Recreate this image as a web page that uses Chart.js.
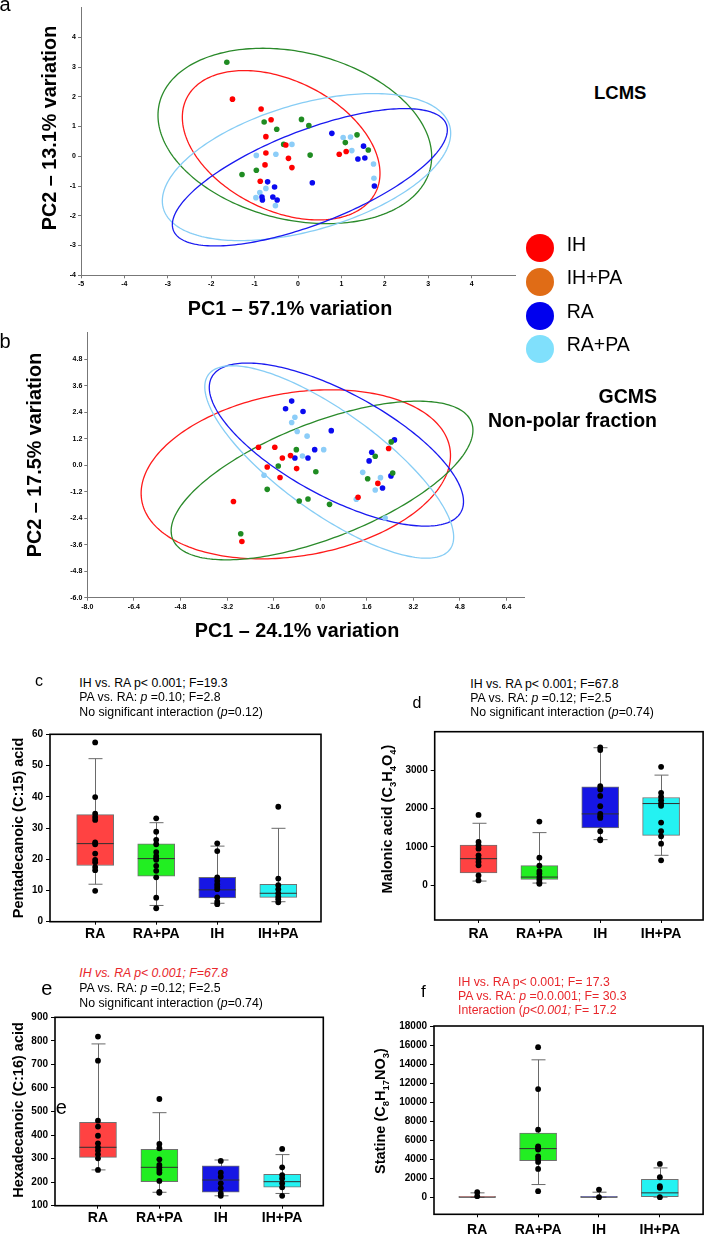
<!DOCTYPE html>
<html><head><meta charset="utf-8">
<script src="https://cdn.jsdelivr.net/npm/chart.js@4.4.0/dist/chart.umd.min.js"></script>
<style>
html,body{margin:0;padding:0;background:#fff;}
body{width:706px;height:1235px;position:relative;overflow:hidden;font-family:"Liberation Sans",Arial,sans-serif;}
canvas{position:absolute;}
.t{position:absolute;white-space:nowrap;color:#000;line-height:1;z-index:5;}
.c{transform:translate(-50%,-50%);}
.v{transform:translate(-50%,-50%) rotate(-90deg);}
.l{transform:translateY(-50%);}
.r{transform:translate(-100%,-50%);}
.dot{position:absolute;width:28px;height:28px;border-radius:50%;transform:translate(-50%,-50%);}
.red{color:#e8262b;}
</style></head><body>
<script>
// ---------------- DATA ----------------
// Panel a (LCMS PCA): [PC1, PC2]
const lcmsIH = [[-1.51,1.92],[-0.85,1.59],[-0.62,1.23],[-0.74,0.66],[-0.28,0.38],[-0.74,0.11],[-0.22,-0.07],[-0.76,-0.29],[-0.14,-0.38],[-0.87,-0.84],[0.95,0.07],[1.11,0.16]];
const lcmsIHPA = [[-1.64,3.16],[-0.78,1.15],[-0.49,0.91],[0.08,1.24],[0.25,1.03],[-0.33,0.40],[0.28,0.04],[-1.29,-0.61],[-0.96,-0.47],[1.09,0.46],[1.36,0.72],[1.62,0.21]];
const lcmsRA = [[0.78,0.77],[1.51,0.34],[1.38,-0.09],[1.54,-0.06],[1.76,-1.0],[0.33,-0.89],[-0.70,-0.86],[-0.54,-1.03],[-0.83,-1.37],[-0.82,-1.47],[-0.58,-1.37],[-0.48,-1.47]];
const lcmsRAPA = [[-0.96,0.03],[-0.51,0.07],[-0.14,0.40],[1.04,0.63],[1.21,0.65],[1.24,0.19],[1.74,-0.26],[1.75,-0.74],[-0.74,-1.08],[-0.88,-1.22],[-0.97,-1.39],[-0.52,-1.66]];
// confidence ellipses: [centre PC1, centre PC2, half-range PC1, half-range PC2, cos(phase)]
const lcmsEllIH = [-0.388,0.370,2.277,2.510,-0.375];
const lcmsEllIHPA = [-0.073,0.683,3.153,2.947,-0.235];
const lcmsEllRA = [0.273,-0.706,3.168,2.308,0.689];
const lcmsEllRAPA = [0.196,-0.364,3.322,2.471,0.460];
const lcmsXTicks = [-5,-4,-3,-2,-1,0,1,2,3,4];
const lcmsYTicks = [-4,-3,-2,-1,0,1,2,3,4];

// Panel b (GCMS PCA)
const gcmsIH = [[-2.12,0.82],[-1.56,0.82],[-1.30,0.33],[-1.02,0.44],[-1.82,-0.08],[-0.81,-0.15],[-1.38,-0.55],[-2.98,-1.64],[-2.69,-3.45],[2.35,0.76],[1.98,-0.82],[1.30,-1.45]];
const gcmsIHPA = [[-0.82,0.71],[-1.44,-0.03],[-0.15,-0.29],[-1.82,-1.09],[-0.72,-1.62],[-0.42,-1.53],[0.32,-1.77],[-2.73,-3.10],[1.89,0.41],[1.63,-0.61],[2.49,-0.35],[2.44,1.06]];
const gcmsRA = [[-0.98,2.91],[-1.19,2.56],[-0.59,2.44],[0.38,1.57],[-0.19,0.71],[-0.87,0.33],[-0.42,0.33],[1.77,0.59],[1.68,0.20],[2.55,1.15],[2.43,-0.48],[2.14,-1.03]];
const gcmsRAPA = [[-0.87,2.18],[-0.98,1.94],[-0.79,1.53],[-0.45,1.32],[0.12,0.71],[-0.61,0.42],[-1.93,-0.45],[1.46,-0.32],[2.07,-0.56],[1.89,-1.12],[1.24,-1.54],[2.23,-2.39]];
const gcmsEllIH = [-0.838,-0.409,5.313,3.831,0.224];
const gcmsEllIHPA = [0.063,-0.689,5.183,3.596,0.634];
const gcmsEllRA = [0.556,0.939,4.366,3.695,-0.70];
const gcmsEllRAPA = [0.31,0.151,4.274,4.361,-0.78];
const gcmsXTicks = [-8.0,-6.4,-4.8,-3.2,-1.6,0.0,1.6,3.2,4.8,6.4];
const gcmsYTicks = [-6.0,-4.8,-3.6,-2.4,-1.2,0.0,1.2,2.4,3.6,4.8];

// Box plots: categories, boxes [min, q1, median, q3, max], individual points
const categories = ['RA','RA+PA','IH','IH+PA'];
const cBoxes = [[12.0,18.0,25.0,34.3,52.2],[5.2,14.6,20.2,24.9,31.7],[5.9,7.6,10.2,14.2,24.2],[6.4,7.8,9.1,12.0,29.9]];
const cPoints = [[57.4,39.9,34.6,33.5,32.6,25.4,24.8,21.8,19.8,19.0,17.5,16.5,9.9],[33.1,28.8,26.2,24.8,22.3,21.0,20.3,19.8,17.9,16.3,14.2,7.7,4.3],[25.1,22.6,14.2,13.1,12.0,11.2,10.4,7.8,6.4,5.6],[36.8,13.8,11.7,10.4,9.1,8.0,7.2,6.2]];
const cYTicks = [0,10,20,30,40,50,60];
const dBoxes = [[113,322,696,1052,1617],[61,157,217,513,1374],[1191,1496,1861,2565,3583],[783,1304,2130,2287,2870]];
const dPoints = [[1835,1130,1043,957,783,696,609,522,261,130],[1661,722,513,374,304,217,148,78,43],[3591,3522,2583,2496,2330,2061,1861,1800,1757,1409,1200,1174],[3087,2409,2304,2217,2130,2070,1635,1409,1278,1087,652]];
const dYTicks = [0,1000,2000,3000];
const eBoxes = [[252,305,348,454,787],[157,202,263,339,495],[142,157,209,269,294],[152,179,202,233,317]];
const ePoints = [[818,716,461,436,397,365,348,334,318,301,252],[553,362,344,297,273,263,252,240,205,159,155],[290,240,223,195,174,152,142],[341,263,230,216,195,178,142]];
const eYTicks = [100,200,300,400,500,600,700,800,900];
const fBoxes = [[0,0,0,30,455],[1329,3847,5106,6749,14443],[0,0,0,30,525],[0,0,455,1888,3077]];
const fPoints = [[525,105],[15771,11365,7099,5350,5176,5001,4301,4021,3707,2972,629],[804,0],[3497,2098,1154,979,0]];
const fYTicks = [0,2000,4000,6000,8000,10000,12000,14000,16000,18000];

// ---------------- RENDERING ----------------
Chart.defaults.font.family = '"Liberation Sans", Arial, sans-serif';
Chart.defaults.color = '#000';

function makeCanvas(rect){
  const cv = document.createElement('canvas');
  cv.width = rect.w; cv.height = rect.h;
  cv.style.left = rect.x+'px'; cv.style.top = rect.y+'px';
  cv.style.width = rect.w+'px'; cv.style.height = rect.h+'px';
  document.body.appendChild(cv);
  return cv;
}
function fixTicks(list){ return s => { s.ticks = list.map(v => ({value:v})); }; }

const PCA_COLORS = {IH:'#ff0000', IHPA:'#1f8c22', RA:'#0a0af0', RAPA:'#8ccdf8'};
const ELL_COLORS = {IH:'#ff1a1a', IHPA:'#2a8a2a', RA:'#1a1af0', RAPA:'#87cdf5'};

function pcaChart(rect, area, groups, ellipses, xr, yr, xt, yt, dec){
  const cv = makeCanvas(rect);
  const ellPlugin = {
    id:'ell',
    beforeDatasetsDraw(chart){
      const ctx = chart.ctx, xs = chart.scales.x, ys = chart.scales.y;
      ctx.save();
      ellipses.forEach(e => {
        const p = e.p, d = Math.acos(p[4]);
        ctx.beginPath();
        for (let k=0;k<=240;k++){
          const t = k/240*2*Math.PI;
          const px = xs.getPixelForValue(p[0] + p[2]*Math.cos(t));
          const py = ys.getPixelForValue(p[1] + p[3]*Math.cos(t - d));
          if (k===0) ctx.moveTo(px,py); else ctx.lineTo(px,py);
        }
        ctx.closePath();
        ctx.strokeStyle = e.color; ctx.lineWidth = 1.3; ctx.stroke();
      });
      ctx.restore();
    }
  };
  const fmt = v => dec ? Number(v).toFixed(1) : String(v);
  new Chart(cv, {
    type:'scatter',
    data:{datasets: groups.map(g => ({data:g.pts.map(p=>({x:p[0],y:p[1]})), backgroundColor:g.color, pointRadius:2.8, pointBorderWidth:0, pointHoverRadius:2.8}))},
    options:{
      responsive:false, animation:false, devicePixelRatio:1,
      layout:{padding:{left:0, top:area.t-rect.y, right:rect.x+rect.w-area.r, bottom:0}},
      plugins:{legend:{display:false}, tooltip:{enabled:false}},
      scales:{
        x:{type:'linear', min:xr[0], max:xr[1], afterBuildTicks:fixTicks(xt),
           ticks:{callback:fmt, font:{size:7, weight:'bold'}, padding:2, maxRotation:0, autoSkip:false},
           grid:{drawOnChartArea:false, tickLength:3, color:'#777'}, border:{color:'#777', width:1},
           afterFit:s=>{s.height = rect.y+rect.h-area.b;}},
        y:{type:'linear', min:yr[0], max:yr[1], afterBuildTicks:fixTicks(yt),
           ticks:{callback:fmt, font:{size:7, weight:'bold'}, padding:2, autoSkip:false},
           grid:{drawOnChartArea:false, tickLength:3, color:'#777'}, border:{color:'#777', width:1},
           afterFit:s=>{s.width = area.l-rect.x;}}
      }
    },
    plugins:[ellPlugin]
  });
}

pcaChart({x:0,y:0,w:530,h:300},{l:81,t:7.5,r:515,b:275.3},
  [{pts:lcmsIH,color:PCA_COLORS.IH},{pts:lcmsIHPA,color:PCA_COLORS.IHPA},{pts:lcmsRA,color:PCA_COLORS.RA},{pts:lcmsRAPA,color:PCA_COLORS.RAPA}],
  [{p:lcmsEllIHPA,color:ELL_COLORS.IHPA},{p:lcmsEllIH,color:ELL_COLORS.IH},{p:lcmsEllRAPA,color:ELL_COLORS.RAPA},{p:lcmsEllRA,color:ELL_COLORS.RA}],
  [-5,5],[-4,5],lcmsXTicks,lcmsYTicks,false);

pcaChart({x:0,y:320,w:545,h:300},{l:87.3,t:332.9,r:524,b:597.7},
  [{pts:gcmsIH,color:PCA_COLORS.IH},{pts:gcmsIHPA,color:PCA_COLORS.IHPA},{pts:gcmsRA,color:PCA_COLORS.RA},{pts:gcmsRAPA,color:PCA_COLORS.RAPA}],
  [{p:gcmsEllIH,color:ELL_COLORS.IH},{p:gcmsEllIHPA,color:ELL_COLORS.IHPA},{p:gcmsEllRA,color:ELL_COLORS.RA},{p:gcmsEllRAPA,color:ELL_COLORS.RAPA}],
  [-8,7],[-6,6],gcmsXTicks,gcmsYTicks,true);

const BOX_COLORS = ['#ff4242','#22ee22','#1616e4','#24f2f2'];

function boxChart(rect, area, boxes, points, xr, yr, yt, labelPad){
  const cv = makeCanvas(rect);
  const bp = {
    id:'boxw',
    beforeDatasetsDraw(chart){
      const ctx = chart.ctx, xs = chart.scales.x, ys = chart.scales.y;
      ctx.save(); ctx.strokeStyle = '#6a6a6a'; ctx.lineWidth = 1;
      boxes.forEach((b,i) => {
        const x = Math.round(xs.getPixelForValue(i))+0.5;
        const y0 = ys.getPixelForValue(b[0]), y4 = ys.getPixelForValue(b[4]);
        ctx.beginPath();
        ctx.moveTo(x,y0); ctx.lineTo(x,y4);
        ctx.moveTo(x-7,y0); ctx.lineTo(x+7,y0);
        ctx.moveTo(x-7,y4); ctx.lineTo(x+7,y4);
        ctx.stroke();
      });
      ctx.restore();
    },
    afterDatasetDraw(chart, args){
      if (args.meta.type !== 'bar') return;
      const ctx = chart.ctx, xs = chart.scales.x, ys = chart.scales.y;
      ctx.save(); ctx.strokeStyle = '#303030'; ctx.lineWidth = 1;
      boxes.forEach((b,i) => {
        const x = xs.getPixelForValue(i), y = ys.getPixelForValue(b[2]);
        ctx.beginPath(); ctx.moveTo(x-18.5,y); ctx.lineTo(x+18.5,y); ctx.stroke();
      });
      ctx.restore();
    },
    afterDraw(chart){
      const a = chart.chartArea, ctx = chart.ctx;
      ctx.save(); ctx.strokeStyle = '#000'; ctx.lineWidth = 1.6;
      ctx.strokeRect(a.left, a.top, a.right-a.left, a.bottom-a.top);
      ctx.restore();
    }
  };
  const pts = [];
  points.forEach((arr,i) => arr.forEach(v => pts.push({x:i, y:v})));
  new Chart(cv, {
    type:'bar',
    data:{datasets:[
      {type:'scatter', data:pts, backgroundColor:'#000', pointRadius:2.9, pointBorderWidth:0, pointHoverRadius:2.9, order:0},
      {type:'bar', data:boxes.map((b,i)=>({x:i, y:[b[1], b[3]]})), backgroundColor:BOX_COLORS, borderColor:'#707070', borderWidth:1, borderSkipped:false, barThickness:37, grouped:false, order:1}
    ]},
    options:{
      responsive:false, animation:false, devicePixelRatio:1,
      layout:{padding:{left:0, top:area.t-rect.y, right:rect.x+rect.w-area.r, bottom:0}},
      plugins:{legend:{display:false}, tooltip:{enabled:false}},
      scales:{
        x:{type:'linear', min:xr[0], max:xr[1], offset:false, afterBuildTicks:fixTicks(categories.map((c,i)=>i)),
           ticks:{callback:v=>categories[v], font:{size:14, weight:'bold'}, padding:labelPad, maxRotation:0, autoSkip:false},
           grid:{drawOnChartArea:false, offset:false, tickLength:3, color:'#000'}, border:{display:false},
           afterFit:s=>{s.height = rect.y+rect.h-area.b;}},
        y:{type:'linear', min:yr[0], max:yr[1], afterBuildTicks:fixTicks(yt),
           ticks:{callback:v=>String(v), font:{size:10, weight:'bold'}, padding:3, autoSkip:false},
           grid:{drawOnChartArea:false, tickLength:4, color:'#000'}, border:{display:false},
           afterFit:s=>{s.width = area.l-rect.x;}}
      }
    },
    plugins:[bp]
  });
}

boxChart({x:0,y:700,w:353,h:245},{l:50,t:734.3,r:321,b:921.7}, cBoxes, cPoints, [-0.74,3.70], [0,60], cYTicks, 1);
boxChart({x:353,y:700,w:353,h:245},{l:434.7,t:731.7,r:704,b:920}, dBoxes, dPoints, [-0.72,3.69], [-900,4000], dYTicks, 3);
boxChart({x:0,y:990,w:353,h:245},{l:55,t:1017.3,r:323.3,b:1205.7}, eBoxes, ePoints, [-0.70,3.67], [100,900], eYTicks, 1.5);
boxChart({x:353,y:990,w:353,h:245},{l:434,t:1026,r:704,b:1214.3}, fBoxes, fPoints, [-0.71,3.71], [-1800,18000], fYTicks, 4);

// ---------------- TEXT ----------------
function txt(html, x, y, cls, style){
  const d = document.createElement('div');
  d.className = 't '+cls; d.innerHTML = html;
  d.style.left = x+'px'; d.style.top = y+'px';
  if (style) d.setAttribute('style', d.getAttribute('style')+';'+style);
  document.body.appendChild(d); return d;
}
function dot(x,y,color){
  const d = document.createElement('div'); d.className='dot';
  d.style.left=x+'px'; d.style.top=y+'px'; d.style.background=color;
  document.body.appendChild(d);
}
const ANN = 'font-size:12.3px';
const YT = 'font-size:14.5px;font-weight:bold';
const PCT = 'font-size:19.8px;font-weight:bold';
// panel a
txt('a', 5, 3.5, 'c', 'font-size:20px');
txt('PC2 – 13.1% variation', 50, 128, 'v', PCT);
txt('PC1 – 57.1% variation', 290, 309, 'c', PCT);
txt('LCMS', 594, 92.5, 'l', 'font-size:18.5px;font-weight:bold');
// legend
const legend = [['IH','#ff0000',248.3,245],['IH+PA','#e06c16',281.7,278.3],['RA','#0000ee',316,311.7],['RA+PA','#80e0fc',349.3,345]];
legend.forEach(l => { dot(540, l[2], l[1]); txt(l[0], 566.7, l[3], 'l', 'font-size:19.5px'); });
// panel b
txt('b', 5, 340.5, 'c', 'font-size:20px');
txt('PC2 – 17.5% variation', 35, 454.5, 'v', PCT);
txt('PC1 – 24.1% variation', 297, 631, 'c', PCT);
txt('GCMS', 657, 396.7, 'r', 'font-size:19.5px;font-weight:bold');
txt('Non-polar fraction', 657, 420.7, 'r', 'font-size:19.5px;font-weight:bold');
// panel c
txt('c', 39, 681.1, 'c', 'font-size:16px');
txt('IH vs. RA p&lt; 0.001; F=19.3', 79.3, 683.3, 'l', ANN);
txt('PA vs. RA: <i>p</i> =0.10; F=2.8', 79.3, 697.3, 'l', ANN);
txt('No significant interaction (<i>p</i>=0.12)', 79.3, 711.7, 'l', ANN);
txt('Pentadecanoic (C:15) acid', 17.5, 827.5, 'v', YT);
// panel d
txt('d', 417, 702.5, 'c', 'font-size:16px');
txt('IH vs. RA p&lt; 0.001; F=67.8', 470.3, 684.3, 'l', ANN);
txt('PA vs. RA: <i>p</i> =0.12; F=2.5', 470.3, 698.3, 'l', ANN);
txt('No significant interaction (<i>p</i>=0.74)', 470.3, 712.3, 'l', ANN);
txt('Malonic acid (C<sub style="font-size:9.5px">3</sub>H<sub style="font-size:9.5px">4</sub>O<sub style="font-size:9.5px">4</sub>)', 388.5, 819, 'v', YT);
// panel e
txt('e', 46.7, 987.5, 'c', 'font-size:20px');
txt('<i>IH vs. RA p&lt; 0.001; F=67.8</i>', 79.3, 973.3, 'l red', ANN);
txt('PA vs. RA: <i>p</i> =0.12; F=2.5', 79.3, 988.3, 'l', ANN);
txt('No significant interaction (<i>p</i>=0.74)', 79.3, 1002.7, 'l', ANN);
txt('e', 61.3, 1107.1, 'c', 'font-size:20px');
txt('Hexadecanoic (C:16) acid', 17.5, 1110, 'v', YT);
// panel f
txt('f', 423.3, 991.3, 'c', 'font-size:17px');
txt('IH vs. RA p&lt; 0.001; F= 17.3', 458, 981.7, 'l red', ANN);
txt('PA vs. RA: <i>p</i> =0.0.001; F= 30.3', 458, 995.7, 'l red', ANN);
txt('Interaction (<i>p&lt;0.001;</i> F= 17.2', 458, 1010, 'l red', ANN);
txt('Statine (C<sub style="font-size:9.5px">8</sub>H<sub style="font-size:9.5px">17</sub>NO<sub style="font-size:9.5px">3</sub>)', 382, 1111, 'v', YT);
</script>
</body></html>
